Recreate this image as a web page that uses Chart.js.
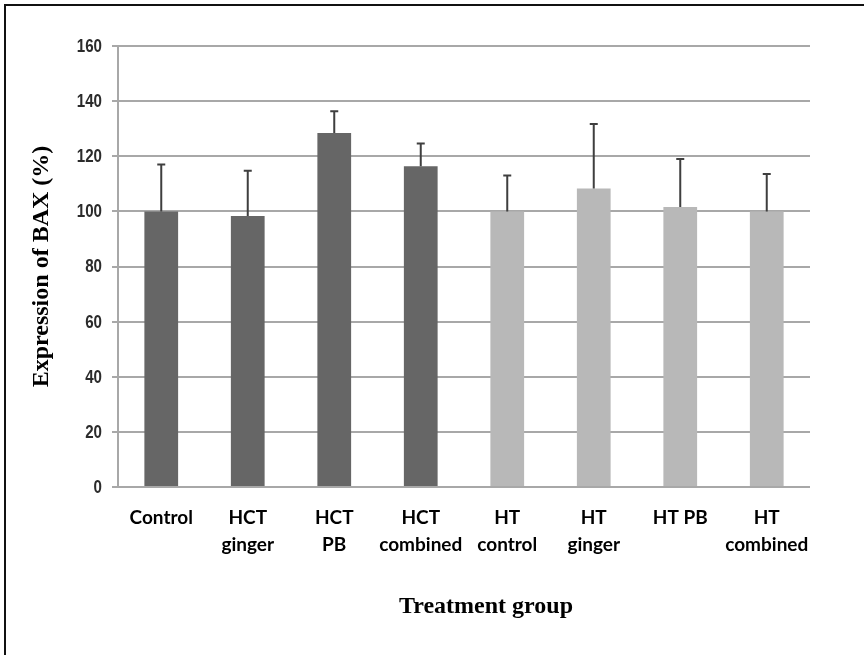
<!DOCTYPE html>
<html>
<head>
<meta charset="utf-8">
<script src="https://cdn.jsdelivr.net/npm/chart.js@4/dist/chart.umd.min.js"></script>
<style>
  html, body { margin: 0; padding: 0; background: #ffffff; }
  #wrap { width: 864px; height: 655px; position: relative; }
</style>
</head>
<body>
<div id="wrap"><canvas id="chart" width="864" height="655"></canvas></div>
<script>
// Treatment groups (multi-line labels on the x axis)
const categories = [
  'Control',
  ['HCT', 'ginger'],
  ['HCT', 'PB'],
  ['HCT', 'combined'],
  ['HT', 'control'],
  ['HT', 'ginger'],
  'HT PB',
  ['HT', 'combined']
];
// Cell line each group belongs to
const cellLine = ['HCT', 'HCT', 'HCT', 'HCT', 'HT', 'HT', 'HT', 'HT'];
// BAX expression (% of control) and standard deviation
const baxExpression = [100, 98.3, 128.4, 116.4, 100, 108.3, 101.6, 100];
const baxSD = [17, 16.4, 7.9, 8.2, 13, 23.4, 17.4, 13.6];
// Y axis tick values
const yTicks = [0, 20, 40, 60, 80, 100, 120, 140, 160];

const lineColors = { HCT: '#666666', HT: '#b8b8b8' };
const serifBold = '"Liberation Serif", "Times New Roman", serif';

// Upper error whiskers with a short cap
const errorBars = {
  id: 'errorBars',
  afterDatasetsDraw(chart) {
    const { ctx } = chart;
    const meta = chart.getDatasetMeta(0);
    const y = chart.scales.y;
    ctx.save();
    ctx.strokeStyle = '#3f3f3f';
    ctx.lineWidth = 2;
    meta.data.forEach((bar, i) => {
      const top = y.getPixelForValue(baxExpression[i] + baxSD[i]);
      const base = y.getPixelForValue(baxExpression[i]);
      ctx.beginPath();
      ctx.moveTo(bar.x, base);
      ctx.lineTo(bar.x, top);
      ctx.moveTo(bar.x - 4, top);
      ctx.lineTo(bar.x + 4, top);
      ctx.stroke();
    });
    ctx.restore();
  }
};

// Condensed y tick labels and the x axis title
const axisText = {
  id: 'axisText',
  afterDraw(chart) {
    const { ctx, chartArea } = chart;
    const y = chart.scales.y;
    ctx.save();
    ctx.fillStyle = '#2b2b2b';
    ctx.font = 'bold 18px "Liberation Sans", Arial, sans-serif';
    ctx.textAlign = 'right';
    ctx.textBaseline = 'middle';
    const right = y.right - 16;
    yTicks.forEach(v => {
      ctx.save();
      ctx.translate(right, y.getPixelForValue(v));
      ctx.scale(0.84, 1);
      ctx.fillText(String(v), 0, 1);
      ctx.restore();
    });
    ctx.fillStyle = '#000000';
    ctx.font = 'bold 24px ' + serifBold;
    ctx.textAlign = 'center';
    ctx.fillText('Treatment group', (chartArea.left + chartArea.right) / 2 + 22, 607);
    ctx.restore();
  }
};

// Figure frame along the top and left edges
const frame = {
  id: 'frame',
  beforeDraw(chart) {
    const { ctx, width, height } = chart;
    ctx.save();
    ctx.fillStyle = '#ffffff';
    ctx.fillRect(0, 0, width, height);
    ctx.strokeStyle = '#111111';
    ctx.lineWidth = 2;
    ctx.beginPath();
    ctx.moveTo(5, height);
    ctx.lineTo(5, 5);
    ctx.lineTo(width, 5);
    ctx.stroke();
    ctx.restore();
  }
};

new Chart(document.getElementById('chart'), {
  type: 'bar',
  data: {
    labels: categories,
    datasets: [{
      data: baxExpression,
      backgroundColor: cellLine.map(c => lineColors[c]),
      borderWidth: 0,
      barPercentage: 0.39,
      categoryPercentage: 1
    }]
  },
  options: {
    responsive: false,
    animation: false,
    devicePixelRatio: 1,
    layout: { autoPadding: false, padding: { top: 46, right: 54, bottom: 0, left: 0 } },
    plugins: { legend: { display: false }, tooltip: { enabled: false } },
    scales: {
      x: {
        afterFit(scale) { scale.height = 168; },
        grid: { display: false, drawTicks: false },
        border: { display: false },
        ticks: {
          color: '#000000',
          maxRotation: 0,
          autoSkip: false,
          padding: 17,
          font: { family: 'Lato', weight: 'bold', size: 19, lineHeight: 1.42 }
        }
      },
      y: {
        min: 0,
        max: 160,
        afterFit(scale) { scale.width = 118; },
        afterBuildTicks(scale) { scale.ticks = yTicks.map(v => ({ value: v })); },
        grid: { color: '#a8a8a8', lineWidth: 2, tickLength: 6, drawTicks: true },
        border: { display: true, color: '#a8a8a8', width: 2 },
        ticks: { display: false },
        title: {
          display: true,
          text: 'Expression of BAX (%)',
          color: '#000000',
          padding: { top: 27, bottom: 0 },
          font: { family: serifBold, weight: 'bold', size: 24 }
        }
      }
    }
  },
  plugins: [frame, errorBars, axisText]
});
</script>
</body>
</html>
